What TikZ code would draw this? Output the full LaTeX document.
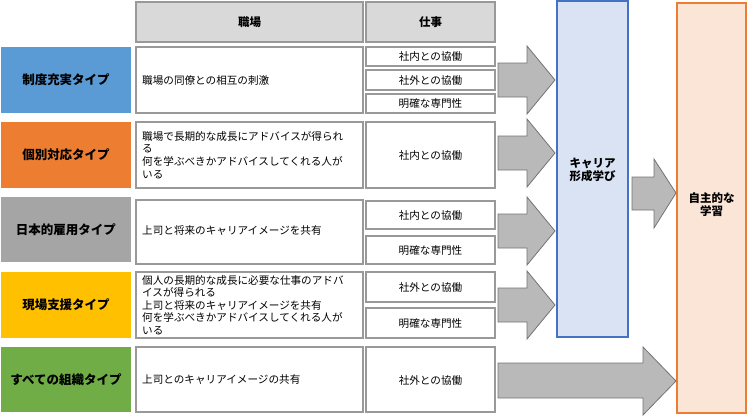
\documentclass[tikz,border=0pt]{standalone}
\usepackage{fontspec}
\setmainfont{Noto Sans CJK JP}
\begin{document}
\begin{tikzpicture}[x=1pt,y=-1pt,
  cell/.style={draw=gray!80,line width=1.2pt,fill=white},
  hdr/.style={draw=gray!80,line width=1.2pt,fill=gray!30},
  arr/.style={draw=gray!90!black,line width=0.8pt,fill=gray!55},
  lbl/.style={font=\fontsize{12.5}{14}\selectfont\bfseries},
  txt/.style={font=\fontsize{10.6}{12.6}\selectfont,align=left,anchor=west,inner sep=0pt},
  ctr/.style={font=\fontsize{10.6}{12}\selectfont}]
\useasboundingbox (0,0) rectangle (750,418);
% headers
\draw[hdr] (136,2) rectangle (363,42); \node[font=\fontsize{11.5}{13}\selectfont\bfseries] (h1) at (249.5,22) {職場};
\draw[hdr] (366,2) rectangle (495,42); \node[font=\fontsize{11.5}{13}\selectfont\bfseries] (h2) at (430.5,22) {仕事};
% left colored
\fill[fill={rgb,255:red,91;green,155;blue,213}] (1,47) rectangle (131,113);
\node[lbl] (l1) at (66,80) {制度充実タイプ};
\fill[fill={rgb,255:red,237;green,125;blue,49}] (1,122) rectangle (131,188);
\node[lbl] (l2) at (66,155) {個別対応タイプ};
\fill[fill={rgb,255:red,165;green,165;blue,165}] (1,197) rectangle (131,262);
\node[lbl] (l3) at (66,230) {日本的雇用タイプ};
\fill[fill={rgb,255:red,255;green,192;blue,0}] (1,272) rectangle (131,338);
\node[lbl] (l4) at (66,305) {現場支援タイプ};
\fill[fill={rgb,255:red,112;green,173;blue,71}] (1,347) rectangle (131,412);
\node[lbl] (l5) at (66,380) {すべての組織タイプ};
% middle
\draw[cell] (136,47) rectangle (363,113); \node[txt] (m1) at (142,80) {職場の同僚との相互の刺激};
\draw[cell] (136,122) rectangle (363,188); \node[txt] (m2) at (142,155) {職場で長期的な成長にアドバイスが得られ\\る\\何を学ぶべきかアドバイスしてくれる人が\\いる};
\draw[cell] (136,200) rectangle (363,264); \node[txt] (m3) at (142,231) {上司と将来のキャリアイメージを共有};
\draw[cell] (136,272) rectangle (363,338); \node[txt] (m4) at (142,305) {個人の長期的な成長に必要な仕事のアドバ\\イスが得られる\\上司と将来のキャリアイメージを共有\\何を学ぶべきかアドバイスしてくれる人が\\いる};
\draw[cell] (136,347) rectangle (363,412); \node[txt] (m5) at (142,380) {上司とのキャリアイメージの共有};
% right
\draw[cell] (366,47) rectangle (495,66); \node[ctr] (r1a) at (430.5,56.5) {社内との協働};
\draw[cell] (366,70) rectangle (495,90); \node[ctr] (r1b) at (430.5,80) {社外との協働};
\draw[cell] (366,94) rectangle (495,113); \node[ctr] (r1c) at (430.5,103.5) {明確な専門性};
\draw[cell] (366,122) rectangle (495,188); \node[ctr] (r2) at (430.5,155) {社内との協働};
\draw[cell] (366,201) rectangle (495,229); \node[ctr] (r3a) at (430.5,215) {社内との協働};
\draw[cell] (366,236) rectangle (495,264); \node[ctr] (r3b) at (430.5,250) {明確な専門性};
\draw[cell] (366,272) rectangle (495,302); \node[ctr] (r4a) at (430.5,287) {社外との協働};
\draw[cell] (366,308) rectangle (495,338); \node[ctr] (r4b) at (430.5,323) {明確な専門性};
\draw[cell] (366,347) rectangle (495,412); \node[ctr] (r5) at (430.5,380) {社外との協働};
% big boxes
\draw[line width=1.5pt,draw={rgb,255:red,68;green,114;blue,196},fill={rgb,255:red,218;green,227;blue,243}] (557,1) rectangle (628,337);
\node[font=\fontsize{11.5}{13}\selectfont\bfseries,align=center] (kb) at (592.5,170) {キャリア\\形成学び};
\draw[line width=1.5pt,draw={rgb,255:red,237;green,125;blue,49},fill={rgb,255:red,251;green,229;blue,214}] (677,3) rectangle (746,413);
\node[font=\fontsize{11.5}{13}\selectfont\bfseries,align=center] (jg) at (711.5,205) {自主的な\\学習};
% arrows
\foreach \t in {80,153,231,305}{
  \draw[arr] (498,\t-17) -- (527,\t-17) -- (527,\t-34) -- (555,\t) -- (527,\t+34) -- (527,\t+17) -- (498,\t+17) -- cycle;}
\draw[arr] (632,177) -- (654,177) -- (654,159) -- (676,193) -- (654,228) -- (654,210) -- (632,210) -- cycle;
\draw[arr] (498,363) -- (643,363) -- (643,347) -- (676,381) -- (643,415) -- (643,398) -- (498,398) -- cycle;
\end{tikzpicture}
\end{document}
